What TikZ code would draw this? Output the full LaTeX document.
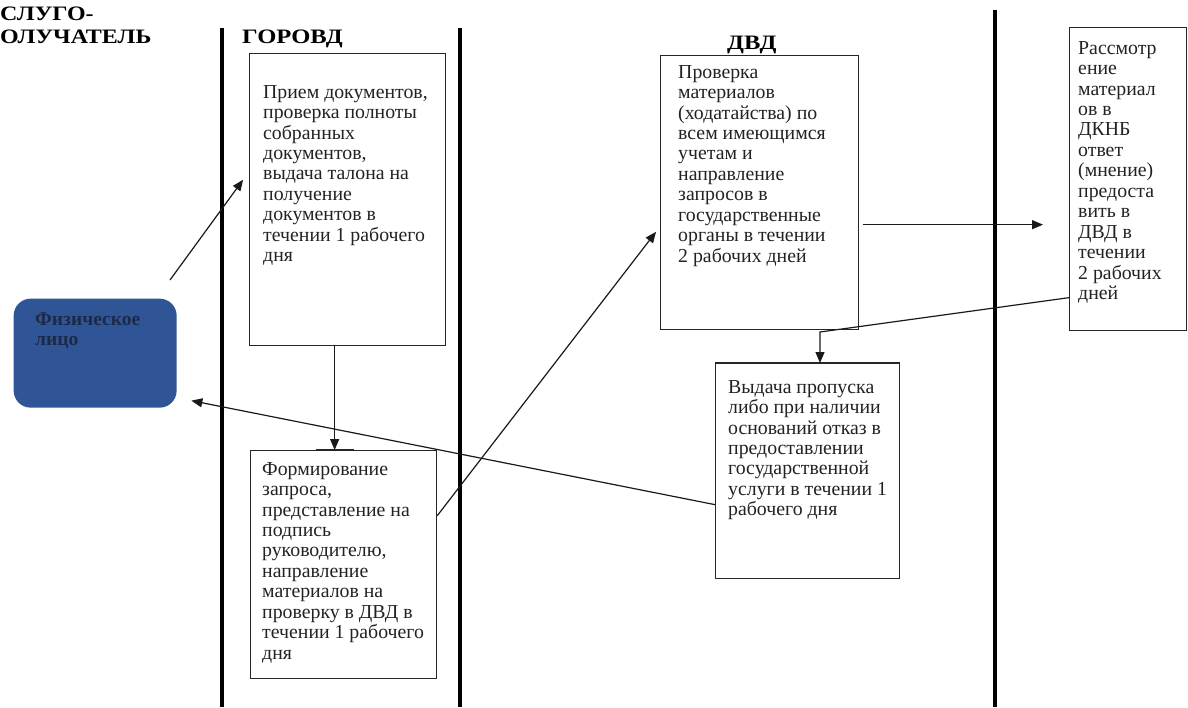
\documentclass[tikz,border=0pt]{standalone}
\usepackage{fontspec}
\setmainfont{Liberation Serif}
\usetikzlibrary{arrows.meta}
\definecolor{fizblue}{HTML}{2F5597}
\definecolor{fiztext}{HTML}{1C2A48}
\definecolor{txtgray}{HTML}{222222}
\begin{document}
\begin{tikzpicture}[x=1pt,y=-1pt,
  lane/.style={line width=3.8pt,black},
  box/.style={draw=black!85,line width=1.3pt,inner sep=0pt,anchor=north west},
  txt/.style={anchor=north west,inner sep=0pt,align=left,text=txtgray,font=\fontsize{19.8}{20.45}\selectfont},
  head/.style={anchor=base west,inner sep=0pt,font=\bfseries\fontsize{20.5}{24}\selectfont},
  arr/.style={line width=1.2pt,black!90,-{Triangle[length=11pt,width=9pt]}}]
\useasboundingbox (0,0) rectangle (1188,707);
% lanes
\coordinate (l1t) at (222,28);  \coordinate (l1b) at (222,707);
\coordinate (l2t) at (460,28);  \coordinate (l2b) at (460,707);
\coordinate (l3t) at (995,10);  \coordinate (l3b) at (995,707);
\draw[lane] (l1t) -- (l1b);
\draw[lane] (l2t) -- (l2b);
\draw[lane] (l3t) -- (l3b);
% headers
\node[head] (h1) at (0,20) {\scalebox{1.17}[1]{СЛУГО-}};
\node[head] (h2) at (0,43) {\scalebox{1.17}[1]{ОЛУЧАТЕЛЬ}};
\node[head] (h3) at (242,43) {\scalebox{1.2}[1]{ГОРОВД}};
\node[head] (h4) at (727,49) {\scalebox{1.2}[1]{ДВД}};
% boxes
\node[box,minimum width=196pt,minimum height=292pt] (A) at (249,53) {};
\node[box,minimum width=186pt,minimum height=228pt] (B) at (250,450) {};
\node[box,minimum width=198pt,minimum height=274pt] (C) at (660,55) {};
\node[box,minimum width=117pt,minimum height=303pt] (D) at (1069,27) {};
\node[box,minimum width=184pt,minimum height=215pt] (E) at (715,363) {};
\node[box,draw=none,fill=fizblue,rounded corners=17pt,minimum width=163pt,minimum height=109pt] (F) at (13,298) {};
\draw[line width=2.6pt,black!85] ([xshift=-28pt]B.north) -- ([xshift=10pt]B.north);
\draw[line width=2.4pt,black!85] (E.north west) -- (E.north east);
% texts
\node[txt] (tA) at (263,85) {Прием документов,\\проверка полноты\\собранных\\документов,\\выдача талона на\\получение\\документов в\\течении 1 рабочего\\дня};
\node[txt] (tB) at (262,462) {Формирование\\запроса,\\представление на\\подпись\\руководителю,\\направление\\материалов на\\проверку в ДВД в\\течении 1 рабочего\\дня};
\node[txt] (tC) at (678,65) {Проверка\\материалов\\(ходатайства) по\\всем имеющимся\\учетам и\\направление\\запросов в\\государственные\\органы в течении\\2 рабочих дней};
\node[txt] (tD) at (1078,41) {Рассмотр\\ение\\материал\\ов в\\ДКНБ\\ответ\\(мнение)\\предоста\\вить в\\ДВД в\\течении\\2 рабочих\\дней};
\node[txt] (tE) at (728,380) {Выдача пропуска\\либо при наличии\\оснований отказ в\\предоставлении\\государственной\\услуги в течении 1\\рабочего дня};
\node[txt,text=fiztext,font=\bfseries\fontsize{19.5}{20}\selectfont] (tF) at (35,313) {Физическое\\лицо};
% connectors
\coordinate (s1) at (170,280);
\coordinate (bend) at (820,332);
\draw[arr,shorten >=10pt] (s1) -- ([yshift=28pt]A.west);
\draw[arr] ([xshift=-13pt]A.south) -- ([xshift=-9pt]B.north);
\draw[arr,shorten >=6.5pt] ([yshift=49pt]B.east) -- ([yshift=-34pt]C.west);
\draw[arr,shorten <=4pt,shorten >=26pt] ([yshift=-32pt]C.east) -- ([yshift=-45.5pt]D.west);
\draw[arr] ([yshift=-118.5pt]D.west) -- (bend) -- (bend |- E.north);
\draw[arr,shorten >=14.3pt] ([yshift=-33.5pt]E.west) -- ([yshift=-44.7pt]F.east);
\end{tikzpicture}
\end{document}
